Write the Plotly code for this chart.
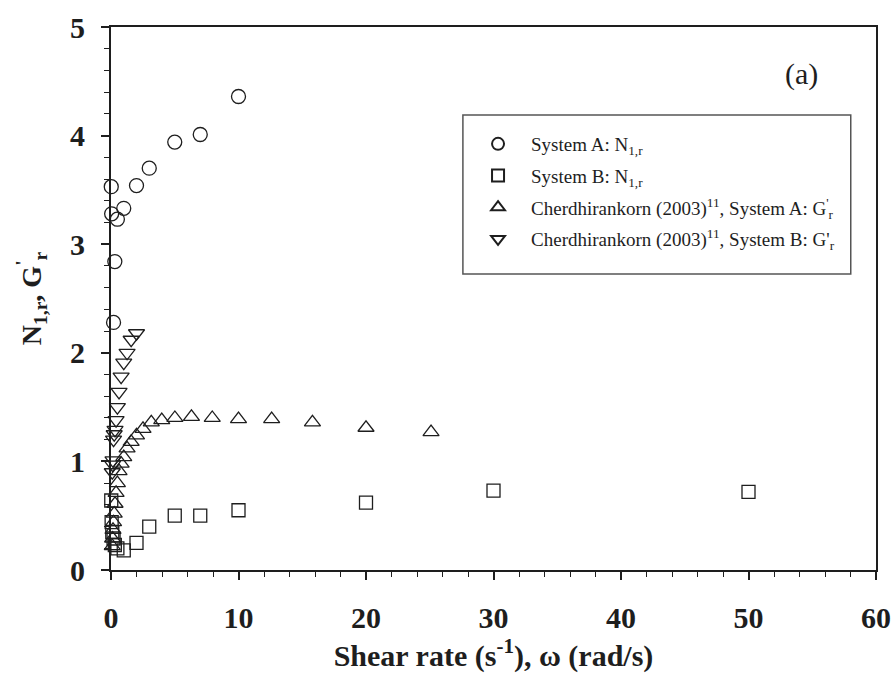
import plotly.graph_objects as go

# System A: first normal stress difference ratio vs shear rate
a_rate = [0.02, 0.05, 0.2, 0.3, 0.5, 1, 2, 3, 5, 7, 10]
a_n1 = [3.53, 3.28, 2.28, 2.84, 3.23, 3.33, 3.54, 3.70, 3.94, 4.01, 4.36]

# System B: first normal stress difference ratio vs shear rate
b_rate = [0.02, 0.05, 0.1, 0.2, 0.3, 0.5, 1, 2, 3, 5, 7, 10, 20, 30, 50]
b_n1 = [0.64, 0.44, 0.35, 0.29, 0.23, 0.20, 0.18, 0.25, 0.40, 0.50, 0.50, 0.55, 0.62, 0.73, 0.72]

# Cherdhirankorn (2003), System A: storage modulus ratio vs frequency
ga_freq = [0.1, 0.126, 0.158, 0.2, 0.251, 0.316, 0.398, 0.501, 0.631, 0.794, 1.0,
           1.26, 1.58, 2.0, 2.51, 3.16, 3.98, 5.01, 6.31, 7.94, 10.0, 12.6, 15.8, 20.0, 25.1]
ga_g = [0.22, 0.29, 0.37, 0.44, 0.52, 0.61, 0.71, 0.80, 0.91, 0.98, 1.04,
        1.12, 1.18, 1.24, 1.30, 1.36, 1.38, 1.40, 1.41, 1.40, 1.39, 1.39, 1.36, 1.31, 1.27]

# Cherdhirankorn (2003), System B: storage modulus ratio vs frequency
gb_freq = [0.1, 0.126, 0.158, 0.2, 0.251, 0.316, 0.398, 0.501, 0.631, 0.794, 1.0, 1.26, 1.58, 2.0]
gb_g = [0.90, 0.97, 1.01, 1.20, 1.25, 1.29, 1.38, 1.50, 1.64, 1.78, 1.91, 2.00, 2.12, 2.18]

x_ticks = [0, 10, 20, 30, 40, 50, 60]
y_ticks = [0, 1, 2, 3, 4, 5]

ink = "#1e1e1e"
serif = "Liberation Serif, Times New Roman, serif"

fig = go.Figure()

series = [
    (a_rate, a_n1, "circle-open", 14, "System A: N<sub>1,r</sub>"),
    (b_rate, b_n1, "square-open", 13, "System B: N<sub>1,r</sub>"),
    (ga_freq, ga_g, "triangle-up-open", 14,
     "Cherdhirankorn (2003)<sup>11</sup>, System A: G<sup>'</sup><sub>r</sub>"),
    (gb_freq, gb_g, "triangle-down-open", 14,
     "Cherdhirankorn (2003)<sup>11</sup>, System B: G'<sub>r</sub>"),
]
for i, (xs, ys, sym, sz, name) in enumerate(series):
    fig.add_trace(go.Scatter(
        x=xs, y=ys, mode="markers", name=name, legendgroup=f"g{i}",
        cliponaxis=False,
        marker=dict(symbol=sym, size=sz, color=ink, line=dict(width=1.3, color=ink)),
    ))

# panel label
fig.add_annotation(x=0.903, y=1.0, xref="paper", yref="paper",
                   xanchor="center", yanchor="middle", yshift=-47,
                   text="(a)", showarrow=False,
                   font=dict(family=serif, size=30, color=ink))

# legend frame
fig.add_shape(type="rect", xref="paper", yref="paper",
              x0=0.460, x1=0.967, y0=0.545, y1=0.838,
              line=dict(color="#555", width=1.5), fillcolor="rgba(0,0,0,0)")

axis_common = dict(
    showline=True, linecolor=ink, linewidth=2, mirror=True,
    ticks="outside", ticklen=8, tickwidth=1.5, tickcolor=ink,
    showgrid=False, zeroline=False,
    tickfont=dict(family=serif, size=30, color=ink, weight="bold"),
)

fig.update_xaxes(
    range=[0, 60], tickvals=x_ticks, ticktext=[str(v) for v in x_ticks],
    ticklabelstandoff=12, automargin="height",
    minor=dict(dtick=2, ticks="outside", ticklen=5, tickwidth=1.2, tickcolor=ink),
    title=dict(text="<b>Shear rate (s<sup>-1</sup>), ω (rad/s)</b>", standoff=12,
               font=dict(family=serif, size=30, color=ink)),
    **axis_common,
)
fig.update_yaxes(
    range=[0, 5], tickvals=y_ticks, ticktext=[str(v) for v in y_ticks],
    ticklabelstandoff=10, automargin="width",
    minor=dict(dtick=0.2, ticks="outside", ticklen=5, tickwidth=1.2, tickcolor=ink),
    title=dict(text="<b>N<sub>1,r</sub>, G<sup>'</sup><sub>r</sub></b>", standoff=20,
               font=dict(family=serif, size=28, color=ink)),
    **axis_common,
)

fig.update_layout(
    width=893, height=695,
    margin=dict(l=111, r=17, t=27, b=125),
    paper_bgcolor="white", plot_bgcolor="white",
    showlegend=True,
    legend=dict(
        x=0.4628, y=0.8195, xanchor="left", yanchor="top",
        bgcolor="rgba(0,0,0,0)", borderwidth=0,
        traceorder="grouped", tracegroupgap=4, itemwidth=56,
        font=dict(family=serif, size=19, color=ink),
        itemsizing="constant",
    ),
)

fig.write_html("out.html")
